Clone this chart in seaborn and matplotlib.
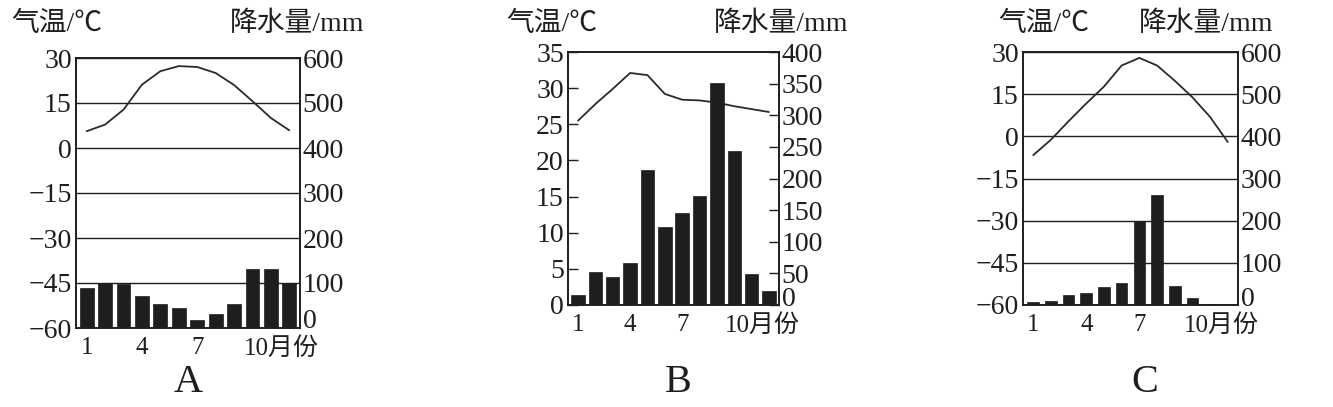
import matplotlib
matplotlib.use('Agg')
import matplotlib.pyplot as plt
import matplotlib.transforms as mtrans
import seaborn as sns

# month axis and climate data
months = list(range(1, 13))

temp_a = [5.6, 7.8, 12.8, 21.1, 25.6, 27.3, 27.0, 25.0, 21.0, 15.6, 10.0, 5.9]
rain_a = [88, 100, 98, 72, 54, 45, 18, 32, 54, 132, 132, 100]

temp_b = [25.5, 27.8, 29.9, 32.1, 31.8, 29.2, 28.4, 28.3, 28.0, 27.5, 27.1, 26.7]
rain_b = [16, 52, 45, 67, 214, 124, 145, 173, 351, 244, 49, 22]

temp_c = [-6.7, -1.2, 5.4, 11.7, 17.7, 25.2, 27.9, 25.2, 19.8, 13.9, 6.9, -2.0]
rain_c = [7, 10, 23, 28, 42, 52, 200, 260, 45, 17, 3, 1]

month_ticks = [1, 4, 7, 10]
month_labels = ['1', '4', '7', '10月份']

temp_ticks_ac = [-60, -45, -30, -15, 0, 15, 30]
rain_ticks_ac = [0, 100, 200, 300, 400, 500, 600]
temp_ticks_b = [0, 5, 10, 15, 20, 25, 30, 35]
rain_ticks_b = [0, 50, 100, 150, 200, 250, 300, 350, 400]

sns.set_theme(style='white')
plt.rcParams['font.family'] = ['Liberation Serif', 'Noto Sans CJK SC', 'DejaVu Sans']

W, H = 1333, 407
fig = plt.figure(figsize=(W / 100, H / 100), dpi=100)
ink = '#1e1e1e'
fs = 20


def box(x0, y0, x1, y1):
    return [x0 / W, 1 - y1 / H, (x1 - x0) / W, (y1 - y0) / H]


def shift(lbl, dx, dy):
    lbl.set_transform(lbl.get_transform() +
                      mtrans.ScaledTranslation(dx / 100, dy / 100, fig.dpi_scale_trans))


def panel(rect, temp, rain, tticks, rticks, grid, bar_w, inward):
    ax = fig.add_axes(rect)
    ax2 = ax.twinx()

    sns.barplot(x=months, y=rain, ax=ax2, native_scale=True, width=bar_w,
                color=ink, saturation=1, edgecolor=ink, linewidth=0.5)
    sns.lineplot(x=months, y=temp, ax=ax, color='#2a2a2a', linewidth=1.3)

    ax.set_xlim(0.42, 12.58)
    ax.set_ylim(tticks[0], tticks[-1])
    ax2.set_ylim(rticks[0], rticks[-1])
    ax.set_yticks(tticks)
    ax2.set_yticks(rticks)
    ax.set_yticklabels([str(t).replace('-', '\u2212') for t in tticks])
    ax2.set_yticklabels([str(r) for r in rticks])
    ax.set_xticks(month_ticks)
    ax.set_xticklabels(month_labels)
    ax.set_xlabel('')
    ax.set_ylabel('')
    ax2.set_xlabel('')
    ax2.set_ylabel('')

    if grid:
        ax.grid(axis='y', color=ink, linewidth=1.0)
    else:
        ax.grid(False)
    ax.grid(axis='x', visible=False)
    ax2.grid(False)

    tlen = 7 if inward else 0
    ax.tick_params(axis='y', direction='in', length=tlen, width=1, color=ink,
                   labelsize=fs, labelcolor=ink, pad=3)
    ax2.tick_params(axis='y', direction='in', length=tlen, width=1, color=ink,
                    labelsize=fs, labelcolor=ink, pad=2)
    ax.tick_params(axis='x', length=0, labelsize=18, labelcolor=ink, pad=6.5)

    # centre the "10" of "10月份" under month 10
    last = ax.get_xticklabels()[-1]
    last.set_ha('left')
    shift(last, -9, 0)
    # the right-hand zero sits a little above the base line
    shift(ax2.get_yticklabels()[0], 0, 9)

    for a in (ax, ax2):
        for s in a.spines.values():
            s.set_color(ink)
            s.set_linewidth(1.2)
    return ax, ax2


panel(box(76, 58, 300, 328), temp_a, rain_a, temp_ticks_ac, rain_ticks_ac, True, 0.75, False)
panel(box(568, 52, 779, 305), temp_b, rain_b, temp_ticks_b, rain_ticks_b, False, 0.77, True)
panel(box(1023, 52, 1238, 305), temp_c, rain_c, temp_ticks_ac, rain_ticks_ac, True, 0.66, False)


def label(x, y, s, size):
    fig.text(x / W, 1 - y / H, s, ha='center', va='center', fontsize=size, color=ink)


for tx, px, lx, letter in [(57, 297, 188, 'A'), (552, 781, 678, 'B'), (1044, 1206, 1145, 'C')]:
    label(tx, 24, '气温/℃', 20)
    label(px, 24, '降水量/mm', 20)
    label(lx, 383, letter, 29)

fig.savefig('out.png', dpi=100, facecolor='white')
